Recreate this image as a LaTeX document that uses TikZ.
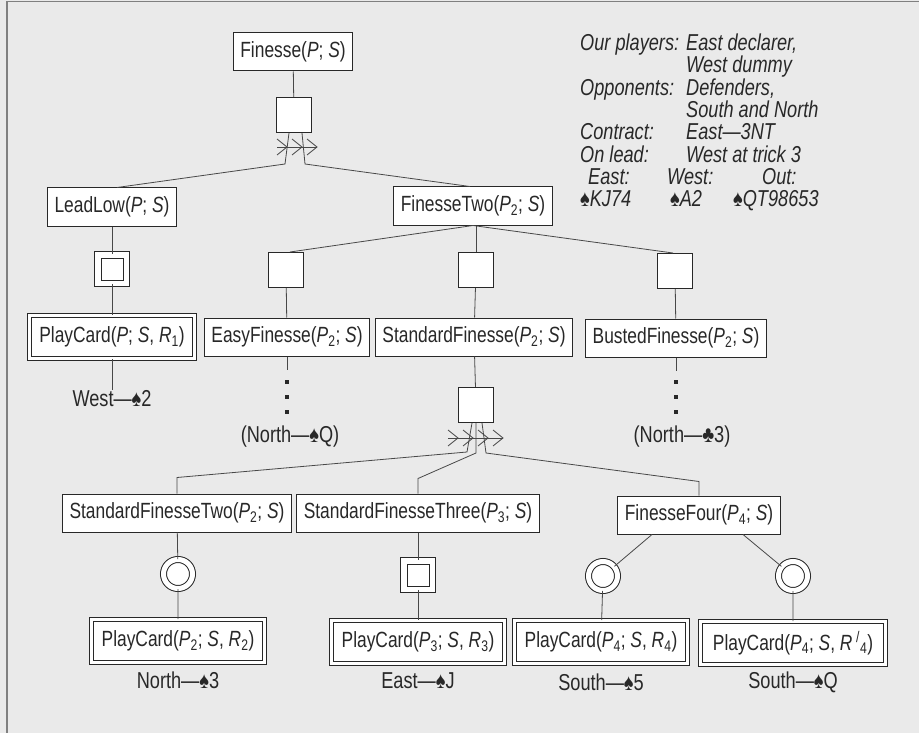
\documentclass[tikz,border=0pt]{standalone}
\usepackage{fontspec}
\setmainfont{Liberation Sans}[FakeStretch=0.79]
\usetikzlibrary{positioning}

\definecolor{paper}{RGB}{234,234,234}
\definecolor{ink}{RGB}{40,40,40}

\newcommand{\Pv}[1]{\textit{P}\textsubscript{#1}}
\newcommand{\Rv}[1]{\textit{R}\textsubscript{#1}}
\newcommand{\spade}{\textup{♠}}
\newcommand{\club}{\textup{♣}}

\begin{document}
\begin{tikzpicture}[x=1pt,y=-1pt]
    \tikzstyle{proc}=[draw=ink,fill=white,line width=1pt,minimum height=38pt,inner xsep=7pt,text=ink,font=\fontsize{22}{25}\selectfont]
    \tikzstyle{leaf}=[proc,double,double distance=3pt,minimum height=43pt,inner xsep=10pt]
    \tikzstyle{andsq}=[draw=ink,fill=white,line width=1pt,minimum size=35pt,inner sep=0pt]
    \tikzstyle{orsq}=[draw=ink,fill=white,double,double distance=5.5pt,line width=1pt,minimum size=28.5pt,inner sep=0pt]
    \tikzstyle{orcirc}=[circle,draw=ink,fill=white,double,double distance=5pt,line width=1pt,minimum size=29pt,inner sep=0pt]
    \tikzstyle{lbl}=[inner sep=1pt,text=ink,font=\fontsize{23}{25}\selectfont]
    \tikzstyle{legend}=[inner sep=0pt,anchor=base west,text=ink,font=\fontsize{23}{25}\selectfont\itshape]
    \tikzstyle{dot}=[fill=ink,minimum size=4.5pt,inner sep=0pt]
    \tikzstyle{conn}=[draw=ink!85,line width=0.8pt]

    \fill[paper] (0,0) rectangle (919,733);
    \useasboundingbox (0,0) rectangle (919,733);
    \draw[black!50,line width=1.2pt] (7,733) -- (7,1.5) -- (919,1.5);

    % legend
    \node[legend] (ourp) at (580,51) {Our players:};
    \node[legend] (ourv) at (686,51) {East declarer,};
    \node[legend] (ourw) at (686,73) {West dummy};
    \node[legend] (opp) at (580,96) {Opponents:};
    \node[legend] (oppv) at (686,96) {Defenders,};
    \node[legend] (oppw) at (686,118) {South and North};
    \node[legend] (con) at (580,140) {Contract:};
    \node[legend] (conv) at (686,140) {East—3NT};
    \node[legend] (lead) at (580,163) {On lead:};
    \node[legend] (leadv) at (686,163) {West at trick 3};
    \node[legend] (heast) at (588,185) {East:};
    \node[legend] (hwest) at (667,185) {West:};
    \node[legend] (hout) at (762,185) {Out:};
    \node[legend] (ceast) at (580,207) {\spade KJ74};
    \node[legend] (cwest) at (670,207) {\spade A2};
    \node[legend] (cout) at (733,207) {\spade QT98653};

    % tree
    \node[proc] (fin) at (293,52) {Finesse(\textit{P}; \textit{S})};
    \node[andsq] (and0) at (294,115) {};
    \node[proc] (low) at (112,207) {LeadLow(\textit{P}; \textit{S})};
    \node[proc] (fin2) at (473,206) {FinesseTwo(\Pv{2}; \textit{S})};
    \node[orsq] (or0) at (112,269) {};
    \node[andsq] (sq1) at (286,270) {};
    \node[andsq] (sq2) at (476,270) {};
    \node[andsq] (sq3) at (675,271) {};
    \node[leaf] (pc1) at (112,337) {PlayCard(\textit{P}; \textit{S}, \Rv{1})};
    \node[proc] (easy) at (287,337) {EasyFinesse(\Pv{2}; \textit{S})};
    \node[proc] (std) at (474,337) {StandardFinesse(\Pv{2}; \textit{S})};
    \node[proc] (bust) at (676,338) {BustedFinesse(\Pv{2}; \textit{S})};
    \node[lbl] (w1) at (112,399) {West—\spade2};
    \foreach \n/\y in {1/382,2/397,3/412} {
        \node[dot] (ed\n) at (287,\y) {};
        \node[dot] (bd\n) at (676,\y) {};
    }
    \node[lbl] (nq) at (290,437) {(North—\spade Q)};
    \node[lbl] (nc) at (682,437) {(North—\club3)};
    \node[andsq] (and1) at (476,405) {};
    \node[proc] (sf2) at (177,513) {StandardFinesseTwo(\Pv{2}; \textit{S})};
    \node[proc] (sf3) at (418,513) {StandardFinesseThree(\Pv{3}; \textit{S})};
    \node[proc] (ff4) at (699,515) {FinesseFour(\Pv{4}; \textit{S})};
    \node[orcirc] (oc2) at (178,574) {};
    \node[orsq] (os3) at (418,575) {};
    \node[orcirc] (oc4) at (603,576) {};
    \node[orcirc] (oc4b) at (793,576) {};
    \node[leaf] (pc2) at (178,641) {PlayCard(\Pv{2}; \textit{S}, \Rv{2})};
    \node[leaf] (pc3) at (418,642) {PlayCard(\Pv{3}; \textit{S}, \Rv{3})};
    \node[leaf] (pc4) at (601,642) {PlayCard(\Pv{4}; \textit{S}, \Rv{4})};
    \node[leaf,inner xsep=12pt] (pc4b) at (793,643) {PlayCard(\Pv{4}; \textit{S}, \textit{R}\,\textsuperscript{/}\textsubscript{4})};
    \node[lbl] (n3) at (178,680) {North—\spade3};
    \node[lbl] (ej) at (418,681) {East—\spade J};
    \node[lbl] (s5) at (601,682) {South—\spade5};
    \node[lbl] (sq) at (793,682) {South—\spade Q};

    % connectors
    \draw[conn] (fin) -- (and0);
    \draw[conn] ([xshift=-5pt]and0.south) -- ++(-4,31) -- ([xshift=5pt]low.north);
    \draw[conn] ([xshift=8pt]and0.south) -- ++(3,31) -- ([xshift=-3pt]fin2.north);
    \foreach \x in {287,302,317}
        \draw[conn] (\x-10,139) -- (\x,147) -- (\x-10,155);
    \draw[conn] (277,147) -- (317,147);

    \draw[conn] (low) -- (or0) -- (pc1) -- (w1);
    \draw[conn] (fin2.south) -- ([xshift=4pt]sq1.north);
    \draw[conn] (sq2.north) -- (sq2.north |- fin2.south);
    \draw[conn] (fin2.south) -- ([xshift=-2pt]sq3.north);
    \draw[conn] (sq1) -- (easy);
    \draw[conn] (sq2) -- (std);
    \draw[conn] (sq3) -- (bust);
    \draw[conn] (easy.south) -- ++(0,13);
    \draw[conn] (bust.south) -- ++(0,13);
    \draw[conn] (std) -- (and1);

    \draw[conn] ([xshift=-4pt]and1.south) -- ++(-5,29) -- ([yshift=16pt]sf2.north) -- (sf2.north);
    \draw[conn] (and1.south) -- ++(0,30) -- ([yshift=15pt]sf3.north) -- (sf3.north);
    \draw[conn] ([xshift=6pt]and1.south) -- ++(4,30) -- ([yshift=14pt]ff4.north) -- (ff4.north);
    \foreach \x in {458,473,488,503}
        \draw[conn] (\x-10,430) -- (\x,438) -- (\x-10,446);
    \draw[conn] (448,438) -- (503,438);

    \draw[conn] (sf2) -- (oc2) -- (pc2);
    \draw[conn] (sf3) -- (os3) -- (pc3);
    \draw[conn] ([xshift=-47pt]ff4.south) -- (oc4) -- (pc4);
    \draw[conn] ([xshift=44pt]ff4.south) -- (oc4b) -- (pc4b);
\end{tikzpicture}
\end{document}
